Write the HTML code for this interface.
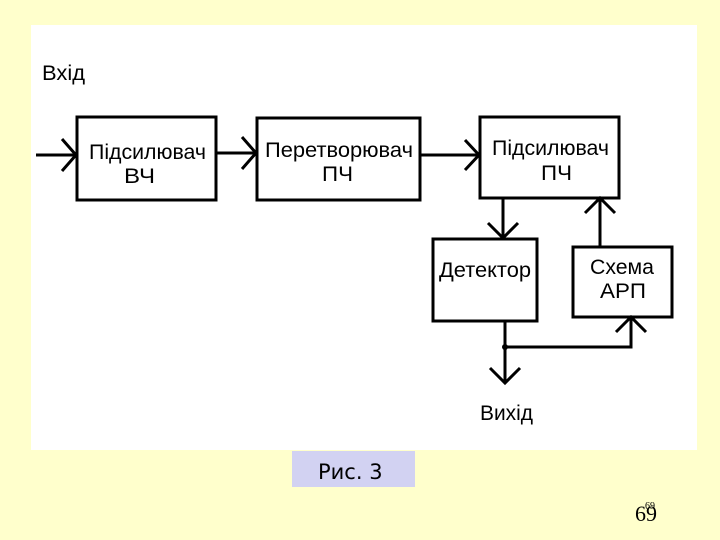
<!DOCTYPE html>
<html><head><meta charset="utf-8"><style>
html,body{margin:0;padding:0;}
body{width:720px;height:540px;background:#ffffcc;position:relative;overflow:hidden;font-family:"Liberation Sans","DejaVu Sans",sans-serif;}
</style></head><body>
<svg width="720" height="540" style="position:absolute;left:0;top:0" font-family="Liberation Sans, DejaVu Sans, sans-serif">
<rect x="31" y="25" width="666" height="425" fill="#ffffff"/>
<g fill="none" stroke="#000" stroke-width="3">
<rect x="77" y="117" width="139" height="83"/>
<rect x="257" y="118" width="163" height="82"/>
<rect x="480" y="117" width="139" height="81"/>
<rect x="433" y="239" width="104" height="82"/>
<rect x="573" y="247" width="99" height="70"/>
<path d="M36 155H76M62 139L76 155L62 171"/>
<path d="M216 153H256M242 137L256 153L242 169"/>
<path d="M420 155H479M465 140L479 155L465 170"/>
<path d="M503 198V237M488 223L503 238L518 223"/>
<path d="M600 246V199M585 213L600 198L615 213"/>
<path d="M505 321V383M490 368L505 383L520 368"/>
<path d="M505 347H631V318M616 332L631 317L646 332"/>
</g>
<circle cx="505" cy="347" r="3" fill="#000"/>
<g font-size="21" fill="#000">
<text x="42" y="80" textLength="43" lengthAdjust="spacingAndGlyphs">Вхід</text>
<text x="89" y="159" textLength="117" lengthAdjust="spacingAndGlyphs">Підсилювач</text>
<text x="124" y="183" textLength="31" lengthAdjust="spacingAndGlyphs">ВЧ</text>
<text x="265" y="157" textLength="148" lengthAdjust="spacingAndGlyphs">Перетворювач</text>
<text x="322" y="181" textLength="31" lengthAdjust="spacingAndGlyphs">ПЧ</text>
<text x="492" y="155" textLength="117" lengthAdjust="spacingAndGlyphs">Підсилювач</text>
<text x="541" y="180" textLength="31" lengthAdjust="spacingAndGlyphs">ПЧ</text>
<text x="439" y="277" textLength="92" lengthAdjust="spacingAndGlyphs">Детектор</text>
<text x="590" y="274" textLength="64" lengthAdjust="spacingAndGlyphs">Схема</text>
<text x="600" y="298" textLength="46" lengthAdjust="spacingAndGlyphs">АРП</text>
<text x="480" y="420" textLength="53" lengthAdjust="spacingAndGlyphs">Вихід</text>
</g>
<rect x="292" y="451" width="123" height="36" fill="#d2d2f2"/>
<text x="318" y="479" font-size="21" font-family="DejaVu Sans, sans-serif" fill="#000">Рис. 3</text>
<text x="635" y="521" font-size="22" font-family="Liberation Serif, serif" fill="#000">69</text>
<text x="645" y="509" font-size="10" font-family="Liberation Serif, serif" fill="#000">69</text>
</svg>
</body></html>
